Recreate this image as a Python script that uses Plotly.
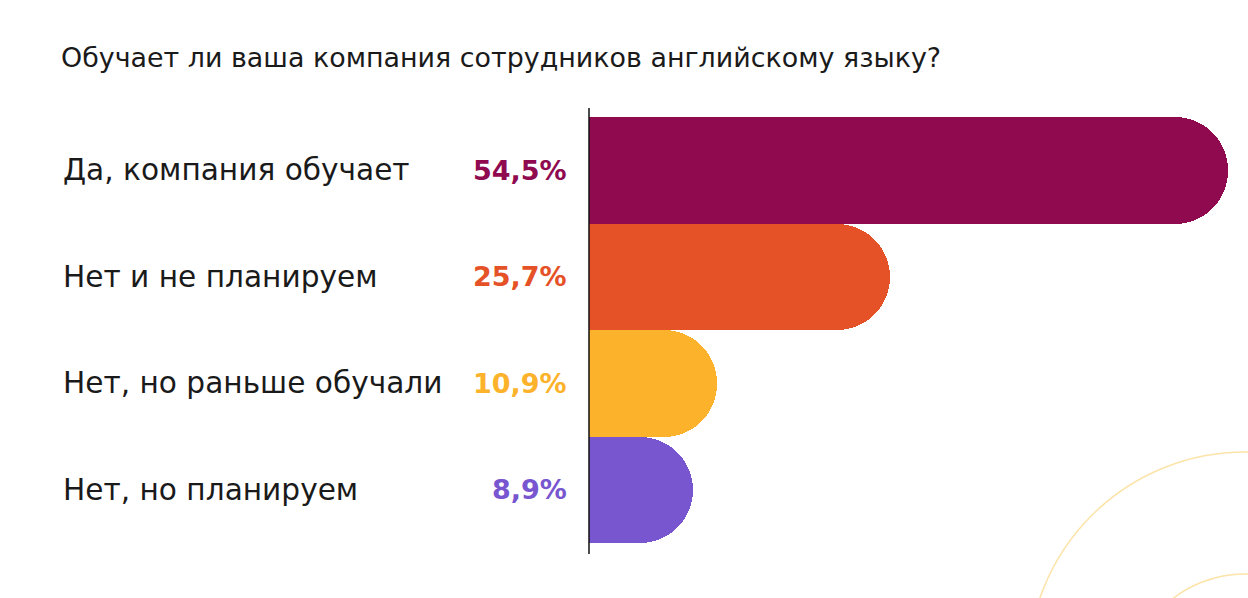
import plotly.graph_objects as go

title = "Обучает ли ваша компания сотрудников английскому языку?"
categories = ["Да, компания обучает", "Нет и не планируем", "Нет, но раньше обучали", "Нет, но планируем"]
values = [54.5, 25.7, 10.9, 8.9]
value_labels = ["54,5%", "25,7%", "10,9%", "8,9%"]
colors = ["#8F0A4F", "#E55227", "#FCB22A", "#7856D0"]

W, H = 1248, 598
L, R, T, B = 589, 20, 117, 55
pw = W - L - R
ph = H - T - B

def px_x(px):
    return (px - L) / pw

def px_y(py):
    return (H - B - py) / ph

fig = go.Figure()
fig.add_trace(go.Bar(
    x=values, y=categories, orientation="h",
    marker=dict(color=colors, line=dict(width=0)),
    hoverinfo="skip",
))

font_family = "DejaVu Sans"
annotations = []
for cat, lab, col in zip(categories, value_labels, colors):
    annotations.append(dict(x=px_x(61), xref="paper", y=cat, yref="y", text=cat,
                            showarrow=False, xanchor="left", yanchor="middle",
                            font=dict(family=font_family, size=29.6, color="#1a1a1a")))
    annotations.append(dict(x=px_x(569), xref="paper", y=cat, yref="y", text="<b>%s</b>" % lab,
                            showarrow=False, xanchor="right", yanchor="middle",
                            font=dict(family=font_family, size=27, color=col)))

shapes = [
    dict(type="line", xref="paper", yref="paper", x0=0, x1=0, y0=px_y(108), y1=px_y(554),
         line=dict(color="#111111", width=1.5), layer="above"),
]
for cx, cy, r in [(1245, 669, 217), (1245, 692, 118)]:
    shapes.append(dict(type="circle", xref="paper", yref="paper",
                       x0=px_x(cx - r), x1=px_x(cx + r), y0=px_y(cy + r), y1=px_y(cy - r),
                       line=dict(color="#FCE3A8", width=1.5), layer="below"))

fig.update_layout(
    width=W, height=H,
    margin=dict(l=L, r=R, t=T, b=B, pad=0),
    paper_bgcolor="white", plot_bgcolor="rgba(0,0,0,0)",
    bargap=0, barcornerradius="50%",
    showlegend=False,
    title=dict(text=title, x=61 / W, xanchor="left", y=1 - 58 / H, yanchor="middle",
               font=dict(family=font_family, size=26.9, color="#1a1a1a")),
    xaxis=dict(range=[0, values[0]], visible=False, fixedrange=True),
    yaxis=dict(autorange="reversed", visible=False, fixedrange=True),
    annotations=annotations,
    shapes=shapes,
)

fig.write_html("out.html")
